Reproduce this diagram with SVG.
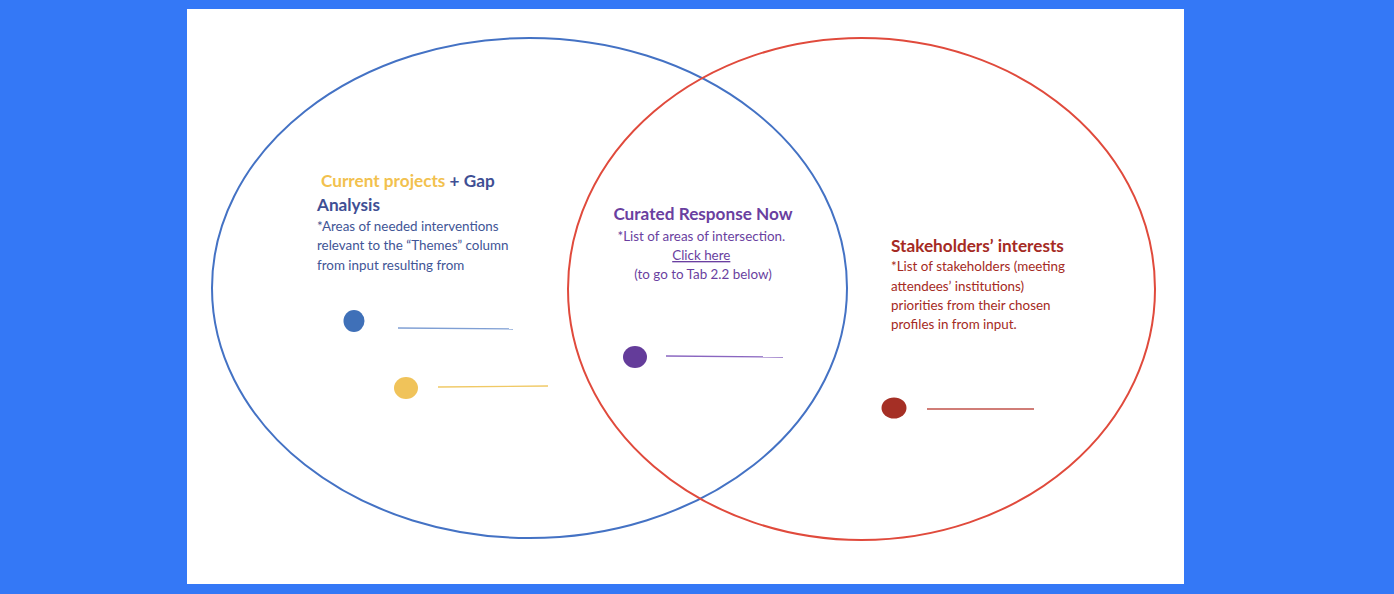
<svg xmlns="http://www.w3.org/2000/svg" width="1394" height="594" viewBox="0 0 1394 594">
  <style>
    .t { font-family: Lato, "Open Sans", "Liberation Sans", sans-serif; }
    .h { font-size: 17.2px; font-weight: bold; }
    .b { font-size: 13.4px; }
    .ring { fill: none; stroke-width: 2; }
  </style>
  <rect x="0" y="0" width="1394" height="594" fill="#3478f6"/>
  <rect x="187" y="9" width="997" height="575" fill="#ffffff"/>

  <g id="set-gap">
    <ellipse class="ring" cx="529.5" cy="288" rx="317.5" ry="250" stroke="#4472c4"/>
    <text class="t h" x="321" y="187"><tspan fill="#f2c14e">Current projects</tspan><tspan fill="#3f4f94"> + Gap</tspan></text>
    <text class="t h" x="317" y="211" fill="#3f4f94">Analysis</text>
    <text class="t b" fill="#3f5596">
      <tspan x="317" y="231">*Areas of needed interventions</tspan>
      <tspan x="317" y="250">relevant to the “Themes” column</tspan>
      <tspan x="317" y="270">from input resulting from</tspan>
    </text>
  </g>

  <g id="set-stakeholders">
    <ellipse class="ring" cx="861.5" cy="289" rx="293.5" ry="251" stroke="#e04a3c"/>
    <text class="t h" x="891" y="252" fill="#a52a23">Stakeholders’ interests</text>
    <text class="t b" fill="#a52a23">
      <tspan x="891" y="271">*List of stakeholders (meeting</tspan>
      <tspan x="891" y="291">attendees’ institutions)</tspan>
      <tspan x="891" y="310">priorities from their chosen</tspan>
      <tspan x="891" y="329">profiles in from input.</tspan>
    </text>
  </g>

  <g id="intersection">
    <text class="t h" x="703" y="220" text-anchor="middle" fill="#6a3fa0">Curated Response Now</text>
    <text class="t b" text-anchor="middle" fill="#6a3fa0">
      <tspan x="703" y="241">*List of areas of intersection.</tspan>
      <tspan x="703" y="260" text-decoration="underline">Click here</tspan>
      <tspan x="703" y="279">(to go to Tab 2.2 below)</tspan>
    </text>
  </g>

  <g id="legend-blue">
    <ellipse cx="354" cy="321" rx="10.5" ry="11" fill="#3f70b8"/>
  </g>
  <g id="legend-yellow">
    <ellipse cx="406" cy="388" rx="12" ry="11" fill="#f0c35a"/>
  </g>
  <g id="legend-purple">
    <ellipse cx="635" cy="357" rx="12" ry="11" fill="#643c9a"/>
  </g>
  <g id="legend-red">
    <ellipse cx="894" cy="408" rx="12.5" ry="10.5" fill="#a52f25"/>
  </g>

  <g id="connectors" stroke-width="1.3" fill="none">
    <line x1="398" y1="328" x2="513" y2="329" stroke="#7f9fd4"/>
    <line x1="438" y1="387" x2="548" y2="386" stroke="#f0c965"/>
    <line x1="666" y1="356" x2="783" y2="357" stroke="#8a66c0"/>
    <line x1="927" y1="409" x2="1034" y2="409" stroke="#c0524a"/>
  </g>
</svg>
